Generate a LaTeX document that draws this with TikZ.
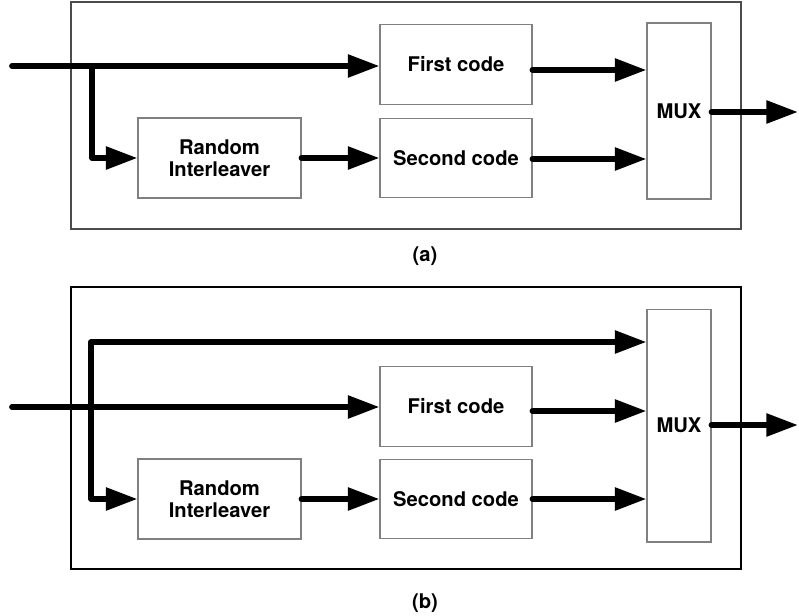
\documentclass[tikz,border=0pt]{standalone}
\usepackage{fontspec}
\setmainfont{TeX Gyre Heros}
\usetikzlibrary{arrows.meta}

\begin{document}
\begin{tikzpicture}[x=0.02cm,y=-0.02cm,
    blk/.style={draw=black!50,line width=0.6pt,inner sep=0pt,align=center,
        font=\fontsize{11.5}{12.5}\selectfont\bfseries},
    code/.style={blk,minimum width=3.04cm,minimum height=1.59cm},
    flow/.style={line width=3.3pt,line cap=round,line join=round,
        -{Triangle[length=18pt,width=12.5pt]}},
    caption/.style={font=\fontsize{11.5}{12.5}\selectfont\bfseries}]
    \useasboundingbox (0,0) rectangle (799,616);

    % (a)
    \draw[black!70,line width=0.6pt] (71,2) rectangle (741,229);
    \node[code] (first1) at (456,64.5) {First code};
    \node[code] (second1) at (456,158) {Second code};
    \node[blk,minimum width=3.26cm,minimum height=1.6cm] (ri1) at (219.5,158) {Random\\Interleaver};
    \node[blk,minimum width=1.28cm,minimum height=3.52cm] (mux1) at (679,111) {MUX};
    \coordinate (in1) at (12,66);
    \coordinate (split1) at (92,66);
    \coordinate (out1) at (798,112);
    \draw[flow] (in1) -- (first1.west |- in1);
    \draw[flow] (split1) |- (ri1.west);
    \draw[flow] (ri1) -- (second1);
    \draw[flow] (first1.east |- 0,70) -- (mux1.west |- 0,70);
    \draw[flow] (second1.east |- 0,159) -- (mux1.west |- 0,159);
    \draw[flow] (mux1.east |- out1) -- (out1);
    \node[caption] (capa) at (425,256) {(a)};

    % (b)
    \draw[black,line width=1.2pt] (71,287) rectangle (741,569);
    \node[code] (first2) at (456,406.5) {First code};
    \node[code] (second2) at (456,499) {Second code};
    \node[blk,minimum width=3.26cm,minimum height=1.6cm] (ri2) at (219.5,499) {Random\\Interleaver};
    \node[blk,minimum width=1.28cm,minimum height=4.66cm] (mux2) at (679,425.5) {MUX};
    \coordinate (in2) at (12,407);
    \coordinate (split2) at (91,407);
    \coordinate (top2) at (91,342);
    \coordinate (out2) at (798,425);
    \draw[flow] (in2) -- (first2.west |- in2);
    \draw[flow] (split2) -- (top2) -- (mux2.west |- top2);
    \draw[flow] (split2) |- (ri2.west);
    \draw[flow] (ri2) -- (second2);
    \draw[flow] (first2.east |- 0,411) -- (mux2.west |- 0,411);
    \draw[flow] (second2) -- (mux2.west |- second2);
    \draw[flow] (mux2.east |- out2) -- (out2);
    \node[caption] (capb) at (425,603) {(b)};
\end{tikzpicture}
\end{document}
